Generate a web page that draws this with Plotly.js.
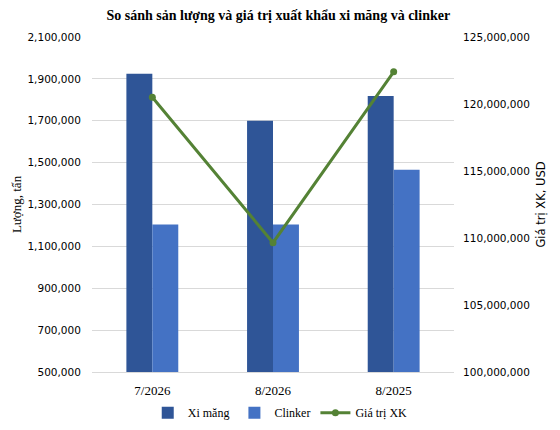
<!DOCTYPE html>
<html><head><meta charset="utf-8">
<script src="https://cdn.plot.ly/plotly-3.0.1.min.js"></script>
<style>body{margin:0;background:#fff}#c{width:560px;height:430px}</style>
</head><body><div id="c"></div>
<script>
const categories = ["7/2026", "8/2026", "8/2025"];
const xiMang = [1925000, 1700000, 1818000];
const clinker = [1204000, 1204000, 1466000];
const giaTriXK = [120500000, 109650000, 122400000];
const leftTicks = [500000, 700000, 900000, 1100000, 1300000, 1500000, 1700000, 1900000, 2100000];
const rightTicks = [100000000, 105000000, 110000000, 115000000, 120000000, 125000000];

const serif = "Liberation Serif, DejaVu Serif, serif";
const sans = "DejaVu Sans, Verdana, sans-serif";

const data = [
  {type: "bar", name: "Xi măng", x: categories, y: xiMang, marker: {color: "#2F5597"}},
  {type: "bar", name: "Clinker", x: categories, y: clinker, marker: {color: "#4472C4"}},
  {type: "scatter", mode: "lines+markers", name: "Giá trị XK", x: categories, y: giaTriXK, yaxis: "y2",
   line: {color: "#548235", width: 3}, marker: {color: "#548235", size: 7}}
];

const layout = {
  width: 560, height: 430,
  margin: {l: 92, r: 106, t: 37, b: 58, autoexpand: false},
  paper_bgcolor: "#fff", plot_bgcolor: "#fff",
  barmode: "group", bargap: 0.57, bargroupgap: 0,
  title: {text: "<b>So sánh sản lượng và giá trị xuất khẩu xi măng và clinker</b>",
          font: {family: serif, size: 14, color: "#000"}, x: 0.497, xanchor: "center", y: 0.965, yanchor: "middle"},
  xaxis: {tickfont: {family: serif, size: 13, color: "#000"}, showline: true, linecolor: "#d9d9d9",
          ticks: "outside", ticklen: 6, tickcolor: "rgba(0,0,0,0)", showgrid: false},
  yaxis: {range: [500000, 2100000], tickvals: leftTicks, tickformat: ",d",
          tickfont: {family: sans, size: 10.5, color: "#000"}, gridcolor: "#d9d9d9", zeroline: false,
          ticks: "outside", ticklen: 8, tickcolor: "rgba(0,0,0,0)", showline: false,
          title: {text: "Lượng, tấn", font: {family: serif, size: 13, color: "#000"}, standoff: 2}},
  yaxis2: {range: [100000000, 125000000], tickvals: rightTicks, tickformat: ",d", overlaying: "y", side: "right",
           tickfont: {family: sans, size: 10.5, color: "#000"}, showgrid: false, zeroline: false,
           ticks: "outside", ticklen: 6, tickcolor: "rgba(0,0,0,0)",
           title: {text: "Giá trị XK, USD", font: {family: sans, size: 11.5, color: "#000"}, standoff: 8}},
  legend: {orientation: "h", x: 0.52, xanchor: "center", yref: "container", y: 0.04, yanchor: "middle",
           font: {family: serif, size: 12, color: "#000"}, traceorder: "normal"},
  showlegend: true
};
Plotly.newPlot("c", data, layout, {displayModeBar: false, staticPlot: true});
</script></body></html>
